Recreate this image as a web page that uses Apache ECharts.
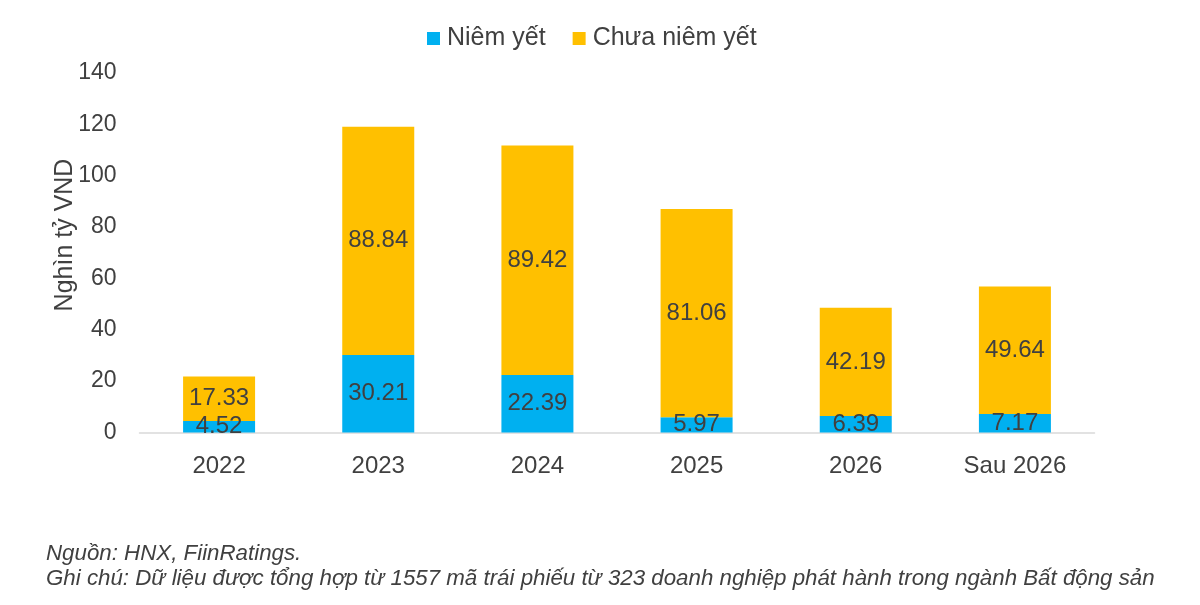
<!DOCTYPE html>
<html><head><meta charset="utf-8">
<script src="https://cdn.jsdelivr.net/npm/echarts@6/dist/echarts.min.js"></script>
<style>html,body{margin:0;padding:0;background:#fff}#c{width:1200px;height:605px}</style>
</head><body><div id="c"></div>
<script>
const categories = ['2022', '2023', '2024', '2025', '2026', 'Sau 2026'];
const listed = [4.52, 30.21, 22.39, 5.97, 6.39, 7.17];
const unlisted = [17.33, 88.84, 89.42, 81.06, 42.19, 49.64];
const seriesNames = ['Niêm yết', 'Chưa niêm yết'];
const yTicks = [0, 20, 40, 60, 80, 100, 120, 140];
const yName = 'Nghìn tỷ VND';
const note1 = 'Nguồn: HNX, FiinRatings.';
const note2 = 'Ghi chú: Dữ liệu được tổng hợp từ 1557 mã trái phiếu từ 323 doanh nghiệp phát hành trong ngành Bất động sản';

const font = 'Liberation Sans, Arial, sans-serif';
const chart = echarts.init(document.getElementById('c'));
const lbl = {show: true, position: 'inside', color: '#404040', fontSize: 24, fontFamily: font};
chart.setOption({
  animation: false,
  textStyle: {fontFamily: font},
  legend: {
    top: 21, left: 422, itemWidth: 13, itemHeight: 13, itemGap: 27,
    icon: 'rect',
    textStyle: {fontSize: 25, color: '#404040', fontFamily: font, padding: [0, 0, 0, 2]},
    data: seriesNames
  },
  grid: {left: 139.5, right: 105.5, top: 73, bottom: 172.5},
  xAxis: {
    type: 'category', data: categories,
    axisLine: {lineStyle: {color: '#d9d9d9', width: 1.5}},
    axisTick: {show: false},
    axisLabel: {fontSize: 24, color: '#404040', margin: 22, fontFamily: font}
  },
  yAxis: {
    type: 'value', min: yTicks[0], max: yTicks[yTicks.length - 1], interval: 20,
    axisLine: {show: false}, axisTick: {show: false}, splitLine: {show: false},
    axisLabel: {fontSize: 23, color: '#404040', margin: 23, fontFamily: font}
  },
  series: [
    {name: seriesNames[0], type: 'bar', stack: 's', data: listed, barWidth: 72,
     itemStyle: {color: '#00B0F0'}, label: lbl},
    {name: seriesNames[1], type: 'bar', stack: 's', data: unlisted, barWidth: 72,
     itemStyle: {color: '#FFC000'}, label: lbl}
  ],
  graphic: [
    {type: 'text', x: 65, y: 235, rotation: Math.PI / 2,
     style: {text: yName, fontSize: 25, fill: '#404040', fontFamily: font, align: 'center', verticalAlign: 'middle'}},
    {type: 'text', left: 46, top: 543, style: {text: note1, fontSize: 22.3, fontStyle: 'italic', fill: '#404040', fontFamily: font}},
    {type: 'text', left: 46, top: 568, style: {text: note2, fontSize: 22.3, fontStyle: 'italic', fill: '#404040', fontFamily: font}}
  ]
});
</script></body></html>
